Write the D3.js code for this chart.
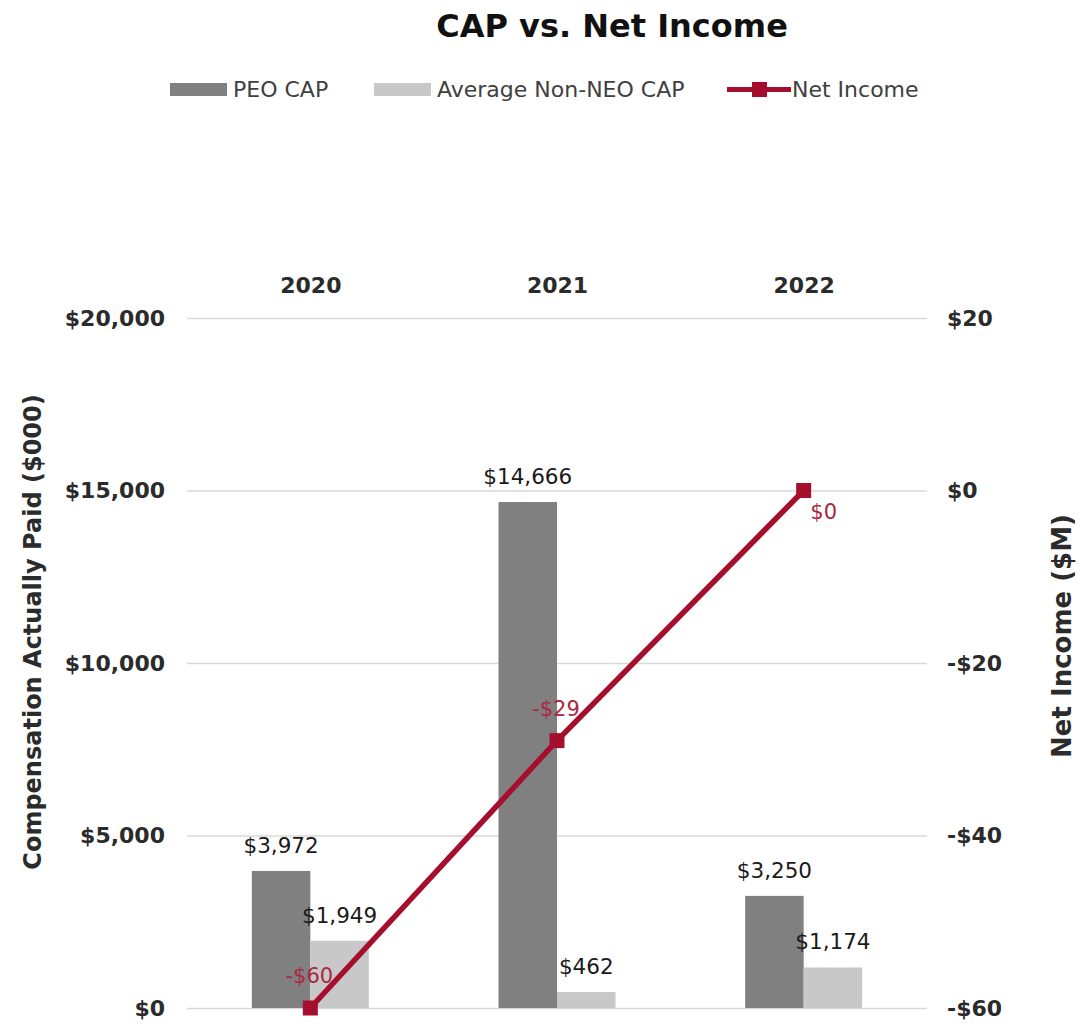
<!DOCTYPE html>
<html>
<head>
<meta charset="utf-8">
<script src="https://cdn.jsdelivr.net/npm/d3@7"></script>
<style>
  html, body { margin: 0; padding: 0; background: #fff; }
  svg { display: block; }
</style>
</head>
<body>
<svg id="chart" width="1084" height="1028"></svg>
<script>
// Chart data
const years = ["2020", "2021", "2022"];
const seriesNames = ["PEO CAP", "Average Non-NEO CAP"];
const peoCap = [3972, 14666, 3250];          // $000
const nonNeoCap = [1949, 462, 1174];         // $000
const netIncome = [-60, -29, 0];             // $M
const leftTicks = [0, 5000, 10000, 15000, 20000];
const rightTicks = [-60, -40, -20, 0, 20];

const barColors = ["#808080", "#c8c8c8"];
const lineColor = "#a50f2d";

const svg = d3.select("#chart");
const fmt = d3.formatLocale({ decimal: ".", thousands: ",", grouping: [3], currency: ["$", ""], minus: "-" }).format("$,");

const plot = { left: 187, right: 927, top: 318, bottom: 1008 };

const x0 = d3.scalePoint().domain(years).range([plot.left, plot.right]).padding(0.5);
const x1 = d3.scaleBand().domain(seriesNames).range([-58.5, 58.5]).padding(0);
const yL = d3.scaleLinear().domain([0, 20000]).range([plot.bottom, plot.top]);
const yR = d3.scaleLinear().domain([-60, 20]).range([plot.bottom, plot.top]);

// Title
svg.append("text")
  .attr("x", 612).attr("y", 37)
  .attr("text-anchor", "middle")
  .style("font-family", "'DejaVu Sans', sans-serif")
  .style("font-weight", "bold")
  .style("font-size", "32px")
  .style("fill", "#111")
  .text("CAP vs. Net Income");

// Legend
const legend = svg.append("g")
  .style("font-family", "'DejaVu Sans', sans-serif")
  .style("font-size", "22px")
  .style("fill", "#404040");
legend.append("rect").attr("x", 170).attr("y", 83).attr("width", 57).attr("height", 13).attr("fill", barColors[0]);
legend.append("text").attr("x", 233).attr("y", 97).text(seriesNames[0]);
legend.append("rect").attr("x", 374).attr("y", 83).attr("width", 57).attr("height", 13).attr("fill", barColors[1]);
legend.append("text").attr("x", 437).attr("y", 97).text(seriesNames[1]);
legend.append("line").attr("x1", 727).attr("x2", 791).attr("y1", 89.5).attr("y2", 89.5)
  .attr("stroke", lineColor).attr("stroke-width", 5);
legend.append("rect").attr("x", 752).attr("y", 82).attr("width", 15).attr("height", 15).attr("fill", lineColor);
legend.append("text").attr("x", 792).attr("y", 97).text("Net Income");

// Gridlines
svg.append("g")
  .attr("transform", `translate(${plot.left},0)`)
  .call(d3.axisLeft(yL).tickValues(leftTicks).tickSize(-(plot.right - plot.left)).tickFormat(""))
  .call(g => g.select(".domain").remove())
  .call(g => g.selectAll("line").attr("stroke", "#d9d9d9").attr("stroke-width", 1.5));

// Left axis labels
svg.append("g")
  .attr("transform", `translate(${plot.left},0)`)
  .call(d3.axisLeft(yL).tickValues(leftTicks).tickSize(0).tickPadding(22).tickFormat(fmt))
  .call(g => g.select(".domain").remove())
  .call(g => g.selectAll("text")
    .style("font-family", "'DejaVu Sans', sans-serif")
    .style("font-weight", "bold")
    .style("font-size", "22px")
    .attr("fill", "#2b2b2b"));

// Right axis labels
svg.append("g")
  .attr("transform", `translate(${plot.right},0)`)
  .call(d3.axisRight(yR).tickValues(rightTicks).tickSize(0).tickPadding(20).tickFormat(fmt))
  .call(g => g.select(".domain").remove())
  .call(g => g.selectAll("text")
    .style("font-family", "'DejaVu Sans', sans-serif")
    .style("font-weight", "bold")
    .style("font-size", "22px")
    .attr("fill", "#2b2b2b"));

// Category labels along the top
svg.append("g")
  .attr("transform", `translate(0,${plot.top})`)
  .call(d3.axisTop(x0).tickSize(0).tickPadding(25))
  .call(g => g.select(".domain").remove())
  .call(g => g.selectAll("text")
    .style("font-family", "'DejaVu Sans', sans-serif")
    .style("font-weight", "bold")
    .style("font-size", "22px")
    .attr("fill", "#2b2b2b"));

// Axis titles
svg.append("text")
  .attr("transform", `translate(41,632) rotate(-90)`)
  .attr("text-anchor", "middle")
  .style("font-family", "'DejaVu Sans', sans-serif")
  .style("font-weight", "bold")
  .style("font-size", "24px")
  .style("fill", "#2b2b2b")
  .text("Compensation Actually Paid ($000)");
svg.append("text")
  .attr("transform", `translate(1071,636) rotate(-90)`)
  .attr("text-anchor", "middle")
  .style("font-family", "'DejaVu Sans', sans-serif")
  .style("font-weight", "bold")
  .style("font-size", "26px")
  .style("fill", "#2b2b2b")
  .text("Net Income ($M)");

// Bars
const barData = years.map((yr, i) => ({ year: yr, values: [peoCap[i], nonNeoCap[i]] }));
const groups = svg.append("g").selectAll("g")
  .data(barData).join("g")
  .attr("transform", d => `translate(${x0(d.year)},0)`);
groups.selectAll("rect")
  .data(d => d.values.map((v, k) => ({ key: seriesNames[k], v, k })))
  .join("rect")
  .attr("x", d => x1(d.key))
  .attr("width", x1.bandwidth())
  .attr("y", d => yL(d.v))
  .attr("height", d => yL(0) - yL(d.v))
  .attr("fill", d => barColors[d.k]);

// Net income line
const pts = years.map((yr, i) => ({ year: yr, v: netIncome[i], i }));
svg.append("path")
  .datum(pts)
  .attr("d", d3.line().x(d => x0(d.year)).y(d => yR(d.v)))
  .attr("fill", "none")
  .attr("stroke", lineColor)
  .attr("stroke-width", 5.5);
svg.append("g").selectAll("rect")
  .data(pts).join("rect")
  .attr("x", d => x0(d.year) - 7.5)
  .attr("y", d => yR(d.v) - 7.5)
  .attr("width", 15).attr("height", 15)
  .attr("fill", lineColor);

// Bar value labels
groups.selectAll("text")
  .data(d => d.values.map((v, k) => ({ key: seriesNames[k], v })))
  .join("text")
  .attr("x", d => x1(d.key) + x1.bandwidth() / 2)
  .attr("y", d => yL(d.v) - 18)
  .attr("text-anchor", "middle")
  .style("font-family", "'DejaVu Sans', sans-serif")
  .style("font-size", "21.5px")
  .style("fill", "#1a1a1a")
  .text(d => fmt(d.v));

// Net income value labels: above each point, except the last which sits below-right
svg.append("g").selectAll("text")
  .data(pts).join("text")
  .attr("x", d => x0(d.year) + (d.i === pts.length - 1 ? 20 : -1))
  .attr("y", d => yR(d.v) + (d.i === pts.length - 1 ? 28 : -25))
  .attr("text-anchor", "middle")
  .style("font-family", "'DejaVu Sans', sans-serif")
  .style("font-size", "21px")
  .style("fill", "#a8283f")
  .text(d => fmt(d.v));
</script>
</body>
</html>
